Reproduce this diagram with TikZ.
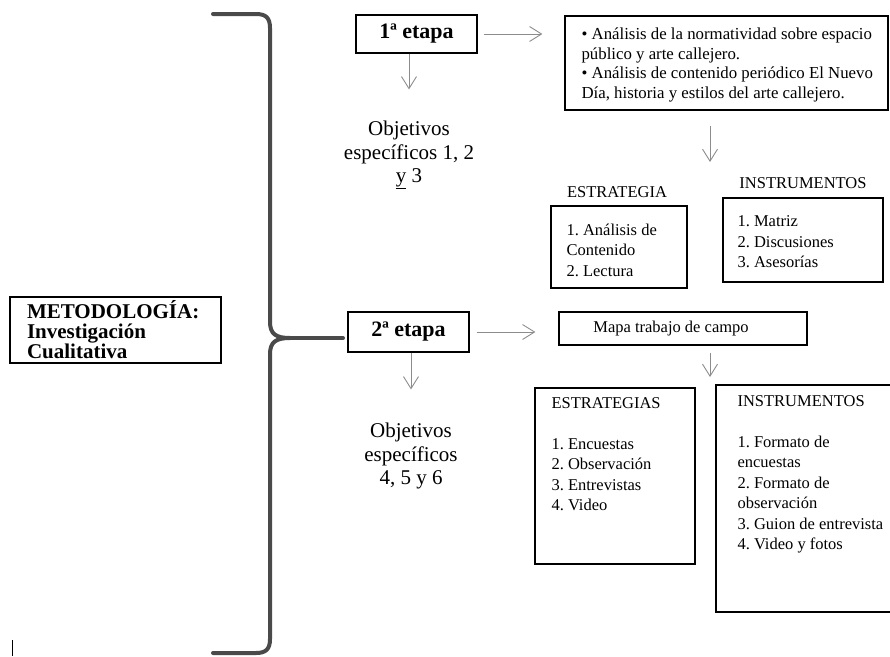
\documentclass[tikz,border=0pt]{standalone}
\usepackage{fontspec}
\setmainfont{Liberation Serif}
\usepackage{tikz}
\usetikzlibrary{arrows.meta,positioning,calc}
\definecolor{braceGray}{RGB}{74,74,74}
\definecolor{arrowGray}{RGB}{140,140,140}
\newcommand{\textoCaja}{\fontsize{16.5}{20.5}\selectfont}
\newcommand{\textoObj}{\fontsize{21}{23.5}\selectfont}
\newcommand{\textoEtapa}{\fontsize{22}{22}\selectfont\bfseries}
\tikzset{
  caja/.style={draw=black, line width=1.3pt, rectangle, inner sep=0pt},
  flecha/.style={draw=arrowGray, line width=0.9pt, -{Straight Barb[length=12pt,width=15pt]}},
  llave/.style={draw=braceGray, line width=4pt, line cap=round, line join=round}
}
\frenchspacing

\begin{document}
\begin{tikzpicture}[x=1pt,y=-1pt]
  \clip (0,0) rectangle (890,656);

  % Llave grande
  \draw[llave] (213,14) -- (256,14) .. controls (266,14) and (270,18) .. (270,28) -- (270,322)
    .. controls (270,334) and (276,338) .. (290,338);
  \draw[llave] (290,338) .. controls (276,338) and (270,342) .. (270,354) -- (270,639)
    .. controls (270,649) and (266,653) .. (256,653) -- (213,653);
  \draw[llave] (285,338) -- (343,338);
  \draw[line width=1pt] (12,640) -- (12,656);

  \node[caja, minimum width=211pt, minimum height=66pt, text width=177pt, align=left,
        font=\fontsize{21}{20}\selectfont\bfseries] (metodo) at (115.5,330)
        {METODOLOGÍA:\\Investigación\\Cualitativa};

  % Primera etapa
  \node[caja, minimum width=121pt, minimum height=38pt, font=\textoEtapa] (etapa1) at (416.5,34) {1ª etapa};
  \node[caja, minimum width=323pt, minimum height=94pt] (analisis) at (726.5,63) {};
  \node[font=\fontsize{16.8}{19.5}\selectfont, align=left, anchor=west, inner sep=0pt] (analisistxt)
        at ([xshift=17pt,yshift=-2pt]analisis.west)
        {• Análisis de la normatividad sobre espacio\\público y arte callejero.\\• Análisis de contenido periódico El Nuevo\\Día, historia y estilos del arte callejero.};
  \node[font=\textoObj, align=center] (obj1) at (409,155) {Objetivos\\específicos 1, 2\\\underline{y} 3};
  \node[font=\textoCaja] (lblEstr1) at (617,192) {ESTRATEGIA};
  \node[caja, minimum width=136pt, minimum height=82pt] (estr1) at (619,247) {};
  \node[font=\textoCaja, align=left, anchor=west, inner sep=0pt] (estr1txt)
        at ([xshift=16pt,yshift=-3pt]estr1.west) {1. Análisis de\\Contenido\\2. Lectura};
  \node[font=\textoCaja] (lblInstr1) at (803,183) {INSTRUMENTOS};
  \node[caja, minimum width=160pt, minimum height=84pt] (instr1) at (803,240) {};
  \node[font=\textoCaja, align=left, anchor=west, inner sep=0pt] (instr1txt)
        at ([xshift=15pt,yshift=-2pt]instr1.west) {1. Matriz\\2. Discusiones\\3. Asesorías};

  % Segunda etapa
  \node[caja, minimum width=121pt, minimum height=40pt, font=\textoEtapa] (etapa2) at (408.5,332) {2ª etapa};
  \node[font=\textoObj, align=center] (obj2) at (411,456) {Objetivos\\específicos\\4, 5 y 6};
  \node[caja, minimum width=248pt, minimum height=33pt, font=\textoCaja] (mapa) at (683,328.5)
        {Mapa trabajo de campo\hspace*{24pt}};
  \node[caja, minimum width=160pt, minimum height=176pt] (estr2) at (615,476) {};
  \node[font=\textoCaja, align=left, anchor=north west, inner sep=0pt] (estr2txt)
        at ([xshift=17pt,yshift=-10pt]estr2.north west)
        {ESTRATEGIAS\\[20.5pt]1. Encuestas\\2. Observación\\3. Entrevistas\\4. Video};
  \node[caja, minimum width=184pt, minimum height=227pt] (instr2) at (808,498.5) {};
  \node[font=\textoCaja, align=left, anchor=north west, inner sep=0pt] (instr2txt)
        at ([xshift=22pt,yshift=-11pt]instr2.north west)
        {INSTRUMENTOS\\[20.5pt]1. Formato de\\encuestas\\2. Formato de\\observación\\3. Guion de entrevista\\4. Video y fotos};

  % Flechas
  \draw[flecha, shorten <=6pt, shorten >=22pt] (etapa1.east) -- (etapa1.east -| analisis.west);
  \draw[flecha, shorten >=28pt] (etapa1.south -| obj1.north) -- (obj1.north);
  \coordinate (bajada1) at (710,162);
  \draw[flecha, shorten <=15pt] (analisis.south -| bajada1) -- (bajada1);
  \draw[flecha, shorten <=7pt, shorten >=23pt] (etapa2.east) -- (etapa2.east -| mapa.west);
  \draw[flecha, shorten >=30pt] (etapa2.south -| obj2.north) -- (obj2.north);
  \coordinate (bajada2) at (710,377);
  \draw[flecha, shorten <=7pt] (mapa.south -| bajada2) -- (bajada2);
\end{tikzpicture}
\end{document}
